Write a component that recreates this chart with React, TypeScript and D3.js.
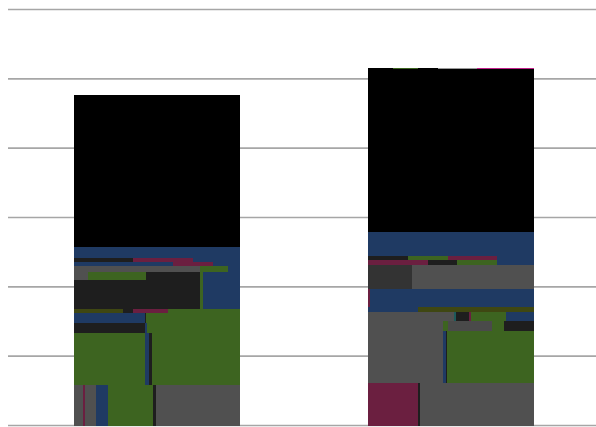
import React from "react";
import * as d3 from "d3";

const categories = ["A", "B"];
const yTicks = [0, 1, 2, 3, 4, 5, 6];

const palette: Record<string, string> = {
  black: "#000000",
  blue: "#1f3a63",
  green: "#3d6420",
  grey: "#505050",
  grey2: "#4a4a4a",
  dark: "#1e1e1e",
  dgrey: "#333333",
  maroon: "#6b1f40",
  olive: "#3f4712",
  magenta: "#c0208a",
  teal: "#1d5a5a",
  lgrey: "#9a9a9a",
};

type Seg = [string, number];
type Layer = { v: number; segs: Seg[] };

// bottom-up layers: value height, then horizontal shares
const bar1Layers: Layer[] = [
  { v: 0.59, segs: [["grey", 10], ["maroon", 2], ["grey", 11], ["blue", 12], ["green", 45], ["dark", 3], ["grey", 85]] },
  { v: 0.75, segs: [["green", 72], ["blue", 4], ["dark", 3], ["green", 89]] },
  { v: 0.144, segs: [["dark", 72], ["blue", 2], ["green", 94]] },
  { v: 0.144, segs: [["blue", 72], ["dark", 1], ["green", 95]] },
  { v: 0.058, segs: [["olive", 50], ["dark", 10], ["maroon", 35], ["green", 73]] },
  { v: 0.418, segs: [["dark", 127], ["green", 3], ["blue", 38]] },
  { v: 0.115, segs: [["grey", 15], ["green", 58], ["dark", 54], ["green", 3], ["blue", 38]] },
  { v: 0.087, segs: [["grey", 127], ["green", 28], ["blue", 13]] },
  { v: 0.058, segs: [["blue", 100], ["maroon", 40], ["blue", 28]] },
  { v: 0.058, segs: [["dark", 60], ["maroon", 60], ["blue", 48]] },
  { v: 0.151, segs: [["blue", 1]] },
  { v: 2.195, segs: [["black", 1]] },
];

const bar2Layers: Layer[] = [
  { v: 0.606, segs: [["maroon", 50], ["dark", 2], ["grey", 115]] },
  { v: 0.764, segs: [["grey", 75], ["blue", 3], ["dark", 1], ["green", 88]] },
  { v: 0.144, segs: [["grey", 75], ["green", 5], ["grey2", 45], ["green", 12], ["dark", 30]] },
  { v: 0.13, segs: [["grey", 87], ["teal", 2], ["dark", 13], ["maroon", 2], ["green", 35], ["blue", 28]] },
  { v: 0.058, segs: [["blue", 50], ["olive", 117]] },
  { v: 0.26, segs: [["maroon", 2], ["blue", 165]] },
  { v: 0.36, segs: [["dgrey", 44], ["grey", 123]] },
  { v: 0.058, segs: [["maroon", 60], ["dark", 30], ["green", 40], ["blue", 37]] },
  { v: 0.058, segs: [["dark", 40], ["green", 40], ["maroon", 50], ["blue", 37]] },
  { v: 0.35, segs: [["blue", 1]] },
  { v: 2.347, segs: [["black", 1]] },
  { v: 0.02, segs: [["black", 25], ["green", 25], ["black", 20], ["lgrey", 40], ["magenta", 57]] },
];

const bars = [bar1Layers, bar2Layers];

export default function App() {
  const W = 596;
  const H = 427;
  const x = d3
    .scaleBand<string>()
    .domain(categories)
    .range([10, 598])
    .paddingInner(0.432)
    .paddingOuter(0.216);
  const y = d3.scaleLinear().domain([0, 6]).range([425.5, 9.5]);

  const rects: JSX.Element[] = [];
  bars.forEach((layers, bi) => {
    const x0 = x(categories[bi]) as number;
    const bw = x.bandwidth();
    let acc = 0;
    layers.forEach((layer, li) => {
      const total = d3.sum(layer.segs, (s) => s[1]);
      const xs = d3.scaleLinear().domain([0, total]).range([x0, x0 + bw]);
      let cx = 0;
      const yTop = y(acc + layer.v);
      const yBot = y(acc);
      layer.segs.forEach((s, si) => {
        rects.push(
          <rect
            key={`${bi}-${li}-${si}`}
            x={xs(cx)}
            y={yTop}
            width={xs(cx + s[1]) - xs(cx)}
            height={yBot - yTop}
            fill={palette[s[0]]}
          />
        );
        cx += s[1];
      });
      acc += layer.v;
    });
  });

  return (
    <svg
      width={W}
      height={H}
      style={{ position: "absolute", left: 0, top: 0, background: "#ffffff" }}
    >
      <g>
        {yTicks.map((t) => (
          <line
            key={t}
            x1={8}
            x2={596}
            y1={y(t)}
            y2={y(t)}
            stroke="#a6a6a6"
            strokeWidth={1.6}
          />
        ))}
      </g>
      <g shapeRendering="crispEdges">{rects}</g>
    </svg>
  );
}
